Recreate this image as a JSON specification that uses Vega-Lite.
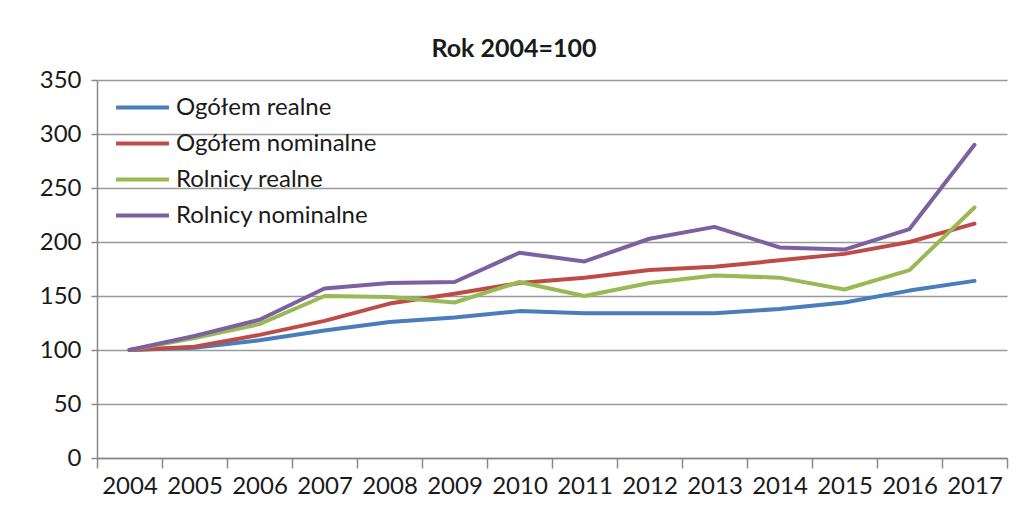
{
  "$schema": "https://vega.github.io/schema/vega-lite/v6.json",
  "width": 910,
  "height": 378,
  "autosize": "none",
  "padding": {"left": 97, "top": 80, "right": 9, "bottom": 62},
  "background": "white",
  "title": {"text": "Rok 2004=100", "font": "Lato", "fontSize": 25, "fontWeight": "bold", "color": "#1a1a1a", "anchor": "middle", "dx": -38, "offset": 6},
  "data": {"values": [
    {"year": "2004", "series": "Ogółem realne", "value": 100},
    {"year": "2005", "series": "Ogółem realne", "value": 102},
    {"year": "2006", "series": "Ogółem realne", "value": 109},
    {"year": "2007", "series": "Ogółem realne", "value": 118},
    {"year": "2008", "series": "Ogółem realne", "value": 126},
    {"year": "2009", "series": "Ogółem realne", "value": 130},
    {"year": "2010", "series": "Ogółem realne", "value": 136},
    {"year": "2011", "series": "Ogółem realne", "value": 134},
    {"year": "2012", "series": "Ogółem realne", "value": 134},
    {"year": "2013", "series": "Ogółem realne", "value": 134},
    {"year": "2014", "series": "Ogółem realne", "value": 138},
    {"year": "2015", "series": "Ogółem realne", "value": 144},
    {"year": "2016", "series": "Ogółem realne", "value": 155},
    {"year": "2017", "series": "Ogółem realne", "value": 164},
    {"year": "2004", "series": "Ogółem nominalne", "value": 100},
    {"year": "2005", "series": "Ogółem nominalne", "value": 103},
    {"year": "2006", "series": "Ogółem nominalne", "value": 114},
    {"year": "2007", "series": "Ogółem nominalne", "value": 127},
    {"year": "2008", "series": "Ogółem nominalne", "value": 143},
    {"year": "2009", "series": "Ogółem nominalne", "value": 152},
    {"year": "2010", "series": "Ogółem nominalne", "value": 162},
    {"year": "2011", "series": "Ogółem nominalne", "value": 167},
    {"year": "2012", "series": "Ogółem nominalne", "value": 174},
    {"year": "2013", "series": "Ogółem nominalne", "value": 177},
    {"year": "2014", "series": "Ogółem nominalne", "value": 183},
    {"year": "2015", "series": "Ogółem nominalne", "value": 189},
    {"year": "2016", "series": "Ogółem nominalne", "value": 200},
    {"year": "2017", "series": "Ogółem nominalne", "value": 217},
    {"year": "2004", "series": "Rolnicy realne", "value": 100},
    {"year": "2005", "series": "Rolnicy realne", "value": 111},
    {"year": "2006", "series": "Rolnicy realne", "value": 124},
    {"year": "2007", "series": "Rolnicy realne", "value": 150},
    {"year": "2008", "series": "Rolnicy realne", "value": 149},
    {"year": "2009", "series": "Rolnicy realne", "value": 144},
    {"year": "2010", "series": "Rolnicy realne", "value": 163},
    {"year": "2011", "series": "Rolnicy realne", "value": 150},
    {"year": "2012", "series": "Rolnicy realne", "value": 162},
    {"year": "2013", "series": "Rolnicy realne", "value": 169},
    {"year": "2014", "series": "Rolnicy realne", "value": 167},
    {"year": "2015", "series": "Rolnicy realne", "value": 156},
    {"year": "2016", "series": "Rolnicy realne", "value": 174},
    {"year": "2017", "series": "Rolnicy realne", "value": 232},
    {"year": "2004", "series": "Rolnicy nominalne", "value": 100},
    {"year": "2005", "series": "Rolnicy nominalne", "value": 113},
    {"year": "2006", "series": "Rolnicy nominalne", "value": 128},
    {"year": "2007", "series": "Rolnicy nominalne", "value": 157},
    {"year": "2008", "series": "Rolnicy nominalne", "value": 162},
    {"year": "2009", "series": "Rolnicy nominalne", "value": 163},
    {"year": "2010", "series": "Rolnicy nominalne", "value": 190},
    {"year": "2011", "series": "Rolnicy nominalne", "value": 182},
    {"year": "2012", "series": "Rolnicy nominalne", "value": 203},
    {"year": "2013", "series": "Rolnicy nominalne", "value": 214},
    {"year": "2014", "series": "Rolnicy nominalne", "value": 195},
    {"year": "2015", "series": "Rolnicy nominalne", "value": 193},
    {"year": "2016", "series": "Rolnicy nominalne", "value": 212},
    {"year": "2017", "series": "Rolnicy nominalne", "value": 290}
  ]},
  "mark": {"type": "line", "strokeWidth": 4, "strokeJoin": "round", "strokeCap": "round"},
  "encoding": {
    "x": {
      "field": "year", "type": "ordinal",
      "scale": {"type": "band", "paddingInner": 0, "paddingOuter": 0},
      "axis": {"title": null, "labelAngle": 0, "labelFont": "Lato", "labelFontSize": 24, "labelColor": "#1a1a1a", "tickBand": "extent", "tickSize": 10, "tickColor": "#888", "tickWidth": 1.5, "domainColor": "#888", "domainWidth": 1.5, "labelPadding": 6, "grid": false}
    },
    "y": {
      "field": "value", "type": "quantitative",
      "scale": {"domain": [0, 350], "nice": false},
      "axis": {"title": null, "values": [0, 50, 100, 150, 200, 250, 300, 350], "labelFont": "Lato", "labelFontSize": 24, "labelColor": "#1a1a1a", "tickSize": 6, "tickColor": "#888", "tickWidth": 1.5, "domainColor": "#888", "domainWidth": 1.5, "labelPadding": 10, "grid": true, "gridColor": "#999", "gridWidth": 1.5}
    },
    "color": {
      "field": "series", "type": "nominal",
      "sort": ["Ogółem realne", "Ogółem nominalne", "Rolnicy realne", "Rolnicy nominalne"],
      "scale": {"domain": ["Ogółem realne", "Ogółem nominalne", "Rolnicy realne", "Rolnicy nominalne"], "range": ["#4a7ebb", "#be4b48", "#98b954", "#7d60a0"]},
      "legend": {"title": null, "orient": "none", "legendX": 30, "legendY": 12, "symbolType": "M-2,0H2", "symbolSize": 700, "symbolStrokeWidth": 4, "labelFont": "Lato", "labelFontSize": 24, "labelColor": "#1a1a1a", "labelLimit": 400, "rowPadding": 8, "labelOffset": 18}
    }
  },
  "config": {"view": {"stroke": null}}
}
